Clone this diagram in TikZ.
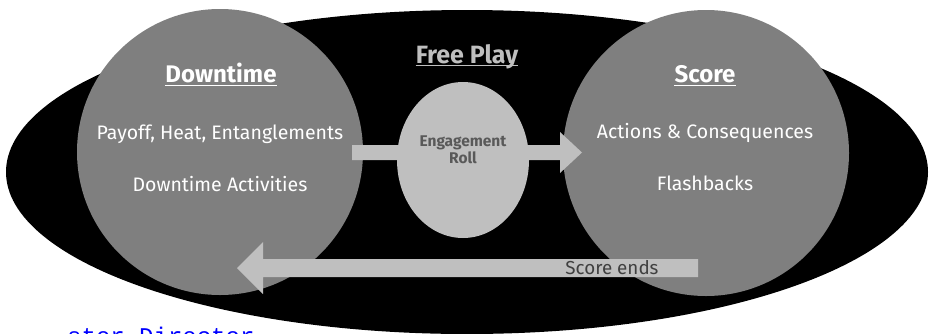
\documentclass[tikz,border=0pt]{standalone}
\usepackage{fontspec}
\setmainfont{Fira Sans}
\setmonofont{Liberation Mono}
\definecolor{midgrey}{HTML}{7F7F7F}
\definecolor{lightgrey}{HTML}{BFBFBF}
\definecolor{darktext}{HTML}{595959}
\definecolor{endtext}{HTML}{404040}
\definecolor{codeblue}{HTML}{0000FF}
\tikzset{
  bigcircle/.style={circle, fill=midgrey, draw=none, minimum size=286pt, inner sep=0pt},
  smallcircle/.style={ellipse, fill=lightgrey, draw=none, minimum width=132pt, minimum height=156pt, inner sep=0pt},
  blockarrow/.style={fill=lightgrey, draw=none},
  titletext/.style={text=white, font=\fontseries{sb}\selectfont\fontsize{24}{27}\selectfont, inner sep=0pt, anchor=base},
  bodytext/.style={text=white, font=\fontsize{19.5}{23}\selectfont, inner sep=0pt, anchor=base},
  ul/.style={draw=white, line width=1.4pt},
}
\usetikzlibrary{shapes.geometric}
\begin{document}
\begin{tikzpicture}[x=1pt, y=-1pt]
\clip (0,0) rectangle (929,333);
\fill[white] (0,0) rectangle (929,333);
% big black ellipse
\fill[black] (467,172) ellipse [x radius=461pt, y radius=162pt];
% circles
\node[bigcircle] (down) at (220,152) {};
\node[bigcircle] (score) at (706,153) {};
% right arrow
\coordinate (ra0) at (352,145);
\fill[blockarrow] (ra0) -- (560,145) -- (560,132) -- (582,152.5) -- (560,173) -- (560,160) -- (352,160) -- cycle;
% middle circle
\node[smallcircle] (eng) at (463,160) {};
% bottom arrow
\coordinate (ba0) at (698,259);
\fill[blockarrow] (ba0) -- (263,259) -- (263,242) -- (237,268) -- (263,294) -- (263,277) -- (698,277) -- cycle;
% texts
\node[titletext] (downT) at (221,82) {Downtime};
\draw[ul] ([yshift=-3.5pt]downT.base west) -- ([yshift=-3.5pt]downT.base east);
\node[bodytext] (d1) at (220,139) {Payoff, Heat, Entanglements};
\node[bodytext] (d2) at (220,191) {Downtime Activities};
\node[titletext] (scoreT) at (705,82) {Score};
\draw[ul] ([yshift=-3.5pt]scoreT.base west) -- ([yshift=-3.5pt]scoreT.base east);
\node[bodytext] (s1) at (705,138) {Actions \& Consequences};
\node[bodytext] (s2) at (705,190) {Flashbacks};
\node[titletext, text=lightgrey, font=\fontseries{sb}\selectfont\fontsize{25}{28}\selectfont] (free) at (467,63) {Free Play};
\draw[ul, draw=lightgrey] ([yshift=-2.5pt]free.base west) -- ([yshift=-2.5pt]free.base east);
\node[inner sep=0pt, anchor=base, text=darktext, font=\fontseries{sb}\selectfont\fontsize{15.5}{18}\selectfont] (e1) at (463,146) {Engagement};
\node[inner sep=0pt, anchor=base, text=darktext, font=\fontseries{sb}\selectfont\fontsize{15.5}{18}\selectfont] (e2) at (463,163) {Roll};
\node[inner sep=0pt, anchor=base, text=endtext, font=\fontsize{18.8}{22}\selectfont] (se) at (612,274) {Score ends};
\node[inner sep=0pt, anchor=base west, text=codeblue, font=\ttfamily\fontsize{24}{28}\selectfont] (dir) at (67,344) {ster Director};
\end{tikzpicture}
\end{document}
